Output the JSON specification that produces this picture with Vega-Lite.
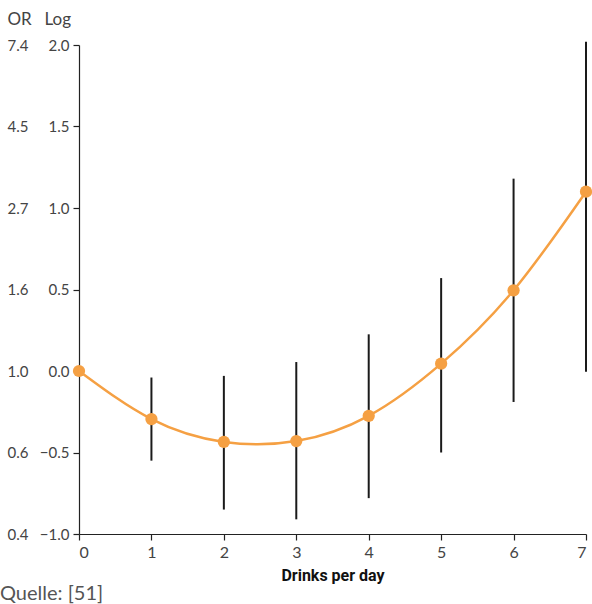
{
  "$schema": "https://vega.github.io/schema/vega-lite/v6.json",
  "autosize": "none",
  "width": 507,
  "height": 489,
  "padding": {"left": 79, "top": 45, "right": 6, "bottom": 70},
  "background": "white",
  "config": {
    "view": {"stroke": null},
    "font": "Lato",
    "axis": {"labelFont": "Lato", "labelColor": "#444", "labelFontSize": 15, "grid": false, "domainColor": "#222", "tickColor": "#222", "domainWidth": 1.2, "tickWidth": 1.2}
  },
  "title": {"text": "Quelle: [51]", "orient": "bottom", "anchor": "start", "frame": "group", "dx": -79, "offset": 1, "font": "Lato", "fontSize": 20, "fontWeight": "normal", "color": "#555"},
  "data": {"values": [
    {"x": 0, "log": 0.0, "lo": null, "hi": null},
    {"x": 1, "log": -0.295, "lo": -0.55, "hi": -0.04},
    {"x": 2, "log": -0.435, "lo": -0.85, "hi": -0.03},
    {"x": 3, "log": -0.43, "lo": -0.91, "hi": 0.055},
    {"x": 4, "log": -0.275, "lo": -0.78, "hi": 0.225},
    {"x": 5, "log": 0.045, "lo": -0.5, "hi": 0.57},
    {"x": 6, "log": 0.495, "lo": -0.19, "hi": 1.18},
    {"x": 7, "log": 1.1, "lo": -0.005, "hi": 2.02}
  ]},
  "resolve": {"axis": {"y": "independent"}},
  "encoding": {
    "x": {"field": "x", "type": "quantitative", "scale": {"domain": [0, 7], "nice": false, "zero": false},
      "axis": {"values": [0,1,2,3,4,5,6,7], "format": "d", "tickSize": 6, "labelPadding": 4, "labelFontSize": 16, "title": "Drinks per day", "titleFont": "Roboto", "titleFontSize": 16, "titleFontWeight": "bold", "titleColor": "#111", "titlePadding": 7}}
  },
  "layer": [
    {
      "transform": [{"filter": "datum.lo != null"}],
      "mark": {"type": "rule", "color": "#1a1a1a", "strokeWidth": 2},
      "encoding": {
        "y": {"field": "lo", "type": "quantitative", "scale": {"domain": [-1, 2], "nice": false, "zero": false},
          "axis": {"orient": "left", "values": [-1,-0.5,0,0.5,1,1.5,2], "labelExpr": "replace(format(datum.value, '.1f'), '-', '–')", "tickSize": 6, "labelPadding": 4, "title": "Log", "titleAngle": 0, "titleAlign": "left", "titleBaseline": "alphabetic", "titleX": -35, "titleY": -21, "titleFont": "Lato", "titleFontSize": 17, "titleFontWeight": "normal", "titleColor": "#444"}},
        "y2": {"field": "hi"}
      }
    },
    {
      "mark": {"type": "line", "color": "#F5A043", "strokeWidth": 2.5, "interpolate": "natural"},
      "encoding": {
        "y": {"field": "log", "type": "quantitative", "scale": {"domain": [-1, 2], "nice": false, "zero": false},
          "axis": {"orient": "left", "values": [-1,-0.5,0,0.5,1,1.5,2], "labelExpr": "format(exp(datum.value), '.1f')", "domain": false, "ticks": false, "labelAlign": "left", "labelPadding": 72, "title": "OR", "titleAngle": 0, "titleAlign": "left", "titleBaseline": "alphabetic", "titleX": -72, "titleY": -21, "titleFont": "Lato", "titleFontSize": 17, "titleFontWeight": "normal", "titleColor": "#444"}}
      }
    },
    {
      "mark": {"type": "circle", "color": "#F5A043", "opacity": 1, "size": 150},
      "encoding": {
        "y": {"field": "log", "type": "quantitative", "axis": null}
      }
    }
  ]
}
